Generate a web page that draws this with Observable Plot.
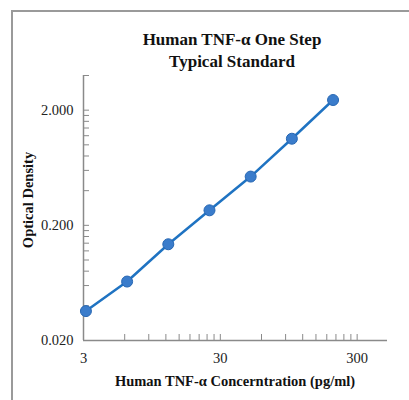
<!DOCTYPE html>
<html>
<head>
<meta charset="utf-8">
<script src="https://cdn.jsdelivr.net/npm/d3@7"></script>
<script src="https://cdn.jsdelivr.net/npm/@observablehq/plot@0.6"></script>
<style>
  html, body { margin: 0; padding: 0; background: #fff; }
  #wrap { position: relative; width: 409px; height: 400px; overflow: hidden; font-family: "Liberation Serif", "DejaVu Serif", serif; }
  #frame { position: absolute; left: 11px; top: 10px; width: 420px; height: 420px; border-left: 2px solid #9a9a9a; border-top: 2px solid #9a9a9a; }
  #title { position: absolute; left: 112px; width: 240px; top: 29px; text-align: center; font-weight: bold; font-size: 17px; line-height: 22px; color: #111; }
  #xlabel { position: absolute; left: 60px; width: 350px; top: 373px; text-align: center; font-weight: bold; font-size: 14.5px; color: #111; }
  #ylabel { position: absolute; left: 28px; top: 200px; transform: translate(-50%, -50%) rotate(-90deg); white-space: nowrap; font-weight: bold; font-size: 14.5px; color: #111; }
  #chart { position: absolute; left: 0; top: 0; }
</style>
</head>
<body>
<div id="wrap">
  <div id="frame"></div>
  <div id="chart"></div>
  <div id="title">Human TNF-α One Step<br>Typical Standard</div>
  <div id="xlabel">Human TNF-α Concerntration (pg/ml)</div>
  <div id="ylabel">Optical Density</div>
</div>
<script>
const concentration = [3.125, 6.25, 12.5, 25, 50, 100, 200];
const od = [0.036, 0.065, 0.137, 0.27, 0.53, 1.13, 2.45];
const xTickLabels = [3, 30, 300];
const yTickLabels = [0.02, 0.2, 2];
const xMinorTicks = [6, 9, 12, 15, 18, 21, 24, 27, 60, 90, 120, 150, 180, 210, 240, 270];
const yMinorTicks = [0.04, 0.06, 0.08, 0.1, 0.12, 0.14, 0.16, 0.18, 0.4, 0.6, 0.8, 1.0, 1.2, 1.4, 1.6, 1.8, 4];

const data = concentration.map((c, i) => ({c, od: od[i]}));
const axisColor = "#8a8a8a";
const yMin = 0.02, xMin = 3;

const chart = Plot.plot({
  width: 409,
  height: 400,
  marginLeft: 83,
  marginRight: 22,
  marginTop: 75,
  marginBottom: 60,
  style: {fontFamily: "'Liberation Serif', serif", fontSize: "14px", background: "transparent", color: "#222"},
  x: {type: "log", domain: [3, 500], axis: null},
  y: {type: "log", domain: [0.02, 4], axis: null},
  marks: [
    Plot.axisX([...xTickLabels, ...xMinorTicks], {anchor: "bottom", tickSize: -6, tickFormat: () => "", label: null, stroke: axisColor}),
    Plot.axisY([...yTickLabels, ...yMinorTicks], {anchor: "left", tickSize: -6, tickFormat: () => "", label: null, stroke: axisColor}),
    Plot.text(xTickLabels, {x: d => d, y: () => yMin, dy: 18, text: d => String(d), fontSize: 14.5, fill: "#222", fontFamily: "'Liberation Serif', serif"}),
    Plot.text(yTickLabels, {x: () => xMin, y: d => d, dx: -10, text: d => d.toFixed(3), textAnchor: "end", fontSize: 14.5, fill: "#222", fontFamily: "'Liberation Serif', serif"}),
    Plot.ruleY([yMin], {stroke: axisColor, strokeWidth: 1.5}),
    Plot.ruleX([xMin], {stroke: axisColor, strokeWidth: 1.5}),
    Plot.line(data, {x: "c", y: "od", stroke: "#1f73c2", strokeWidth: 2.5}),
    Plot.dot(data, {x: "c", y: "od", r: 5.5, fill: "#3a7ccb", stroke: "#2767b3", strokeWidth: 1})
  ]
});
document.getElementById("chart").appendChild(chart);
</script>
</body>
</html>
